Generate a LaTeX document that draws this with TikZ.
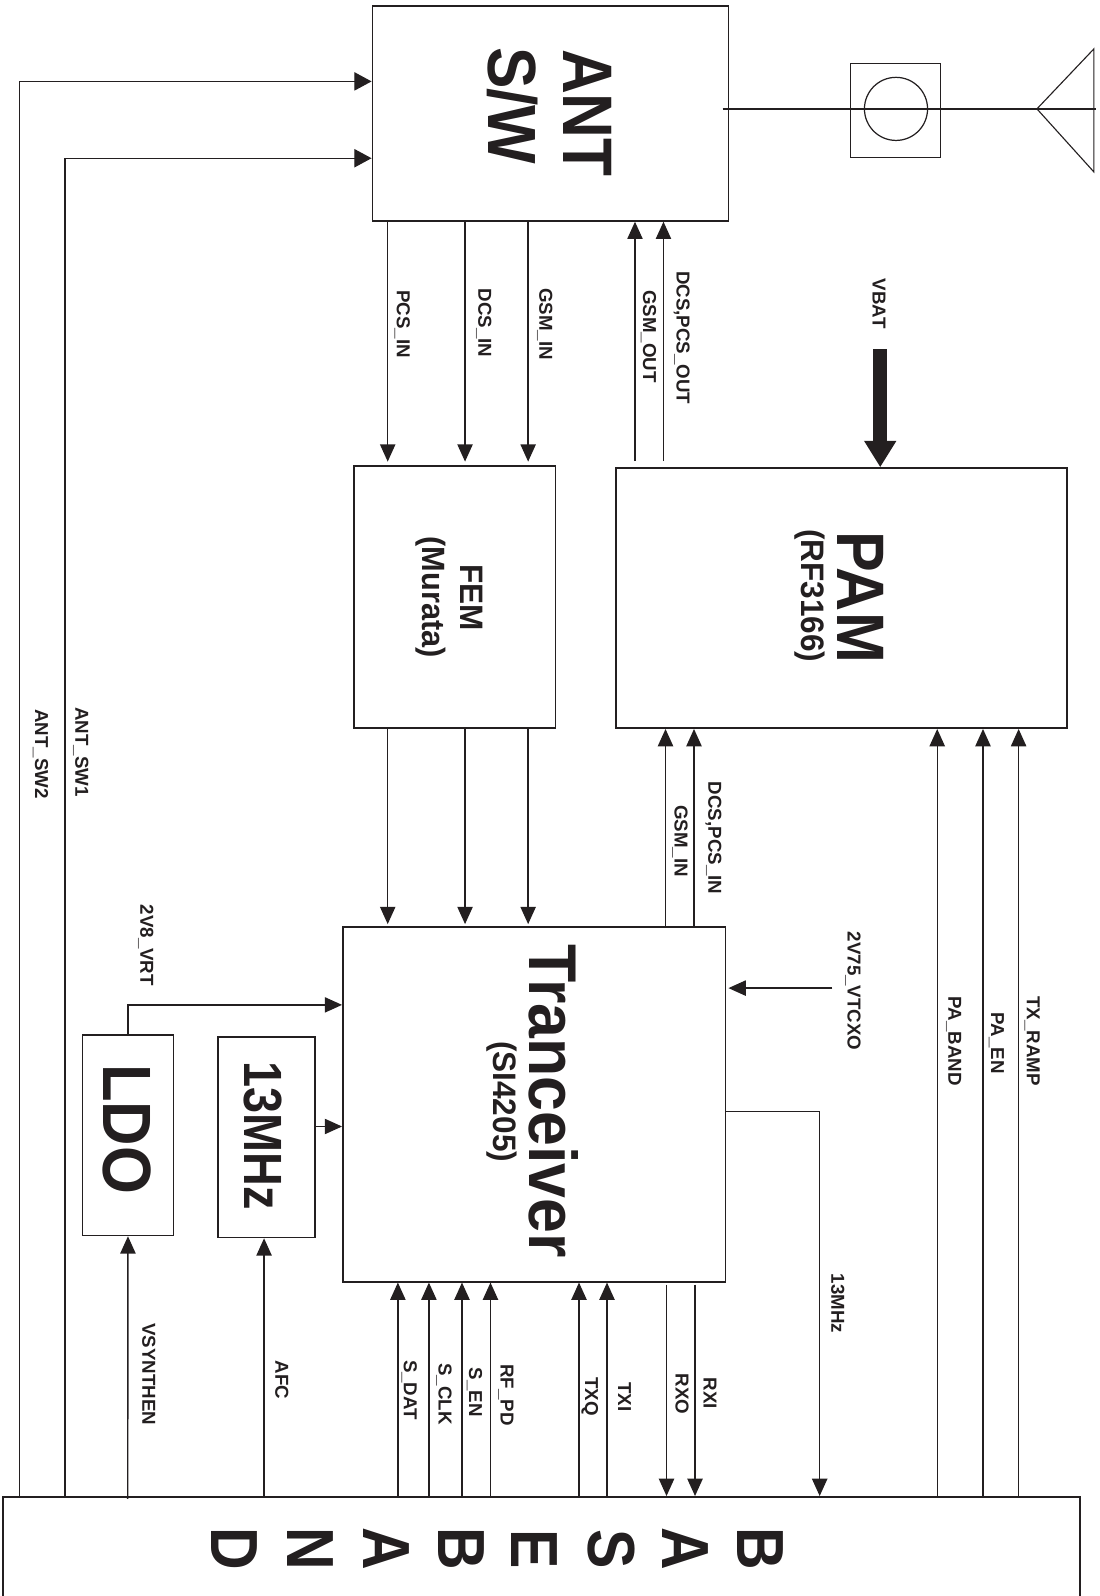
\documentclass[tikz,border=0pt]{standalone}
\usepackage{fontspec}
\setmainfont{Liberation Sans}
\usetikzlibrary{arrows.meta,fit}
\definecolor{ink}{HTML}{231F20}
\newcommand{\bigtxt}[3]{\fontsize{#1}{#1}\bfseries\selectfont\scalebox{1}[#2]{#3}}
\tikzset{
  blk/.style={draw=ink,line width=1.7pt,fill=none,inner sep=0pt,rectangle},
  wire/.style={draw=ink,line width=1.4pt},
  arr/.style={wire,-{Triangle[length=17pt,width=15pt]}},
  lbl/.style={rotate=-90,anchor=base,inner sep=0pt,text=ink,font=\fontsize{18.4}{18.4}\bfseries\selectfont},
  big/.style={rotate=-90,anchor=base,inner sep=0pt,text=ink},
}
\begin{document}
\begin{tikzpicture}[x=1pt,y=-1pt]
\useasboundingbox (0,0) rectangle (1080,1568.4);
% blocks
\node[blk,fit={(366,6)(716,217)}] (antsw) {};
\node[blk,fit={(348,458)(546,715.5)}] (fem) {};
\node[blk,fit={(605,460)(1048.5,715.5)}] (pam) {};
\node[blk,fit={(337,911)(713,1259.5)}] (trx) {};
\node[blk,fit={(81,1017)(170.5,1214)}] (ldo) {};
\node[blk,fit={(214,1019)(309.5,1216)}] (xtal) {};
\node[blk,fit={(3,1471)(1061,1640)}] (base) {};
\node[draw=ink,line width=1pt,inner sep=0pt,fit={(836,62)(924.5,154.5)}] (filt) {};
\node[draw=ink,line width=1.2pt,circle,minimum size=62pt,inner sep=0pt] (coil) at (880.5,107) {};
% antenna
\coordinate (feed) at (710,107);
\coordinate (aerial) at (1077.5,107);
\coordinate (apex) at (1019,107);
\draw[wire] (feed) -- (aerial);
\draw[draw=ink,line width=1.1pt] (1075,48) -- (apex) -- (1075,169) -- cycle;
% block texts
\node[big] (tant) at (553.5,111) {\bigtxt{61}{1.13}{ANT}};
\node[big] (tsw) at (480,104) {\bigtxt{61}{1.1}{S/W}};
\node[big] (tfem) at (453,587.5) {\bigtxt{31}{1.03}{FEM}};
\node[big] (tmur) at (415,587) {\bigtxt{30.2}{1.05}{(Murata)}};
\node[big] (tpam) at (823,587) {\bigtxt{60}{1.1}{PAM}};
\node[big] (trf) at (788,585.5) {\bigtxt{31}{1.03}{(RF3166)}};
\node[big] (ttrx) at (520,1082) {\bigtxt{61.5}{1.08}{Tranceiver}};
\node[big] (tsi) at (485,1082.5) {\bigtxt{31}{1.03}{(SI4205)}};
\node[big] (tldo) at (102,1109.5) {\bigtxt{60.5}{1.11}{LDO}};
\node[big] (txt) at (240,1116) {\bigtxt{46}{1.15}{13MHz}};
\foreach \n/\c/\x in {b1/D/208,b2/N/283,b3/A/357,b4/B/431,b5/E/503,b6/S/578,b7/A/651,b8/B/725}
  \node[big] (\n) at (\x,1522) {\bigtxt{58}{1.13}{\c}};
% antenna switch controls
\coordinate (sw2) at (19,0 |- base.north);
\coordinate (sw1) at (64,0 |- base.north);
\draw[wire,-{Triangle[length=17pt,width=18pt]}] (sw2) |- (antsw.west |- 0,80);
\draw[wire,-{Triangle[length=17pt,width=18pt]}] (sw1) |- (antsw.west |- 0,155.5);
% ant sw <-> fem / pam
\foreach \x in {381,457,519} {
  \draw[arr,shorten >=3.5pt] (\x,0 |- antsw.south) -- (\x,0 |- fem.north);
  \draw[arr,shorten >=2pt] (\x,0 |- fem.south) -- (\x,0 |- trx.north);
}
\foreach \x in {624,652}
  \draw[arr,shorten <=6pt] (\x,0 |- pam.north) -- (\x,0 |- antsw.south);
% VBAT
\coordinate (vbat) at (865,343);
\draw[draw=ink,line width=14pt,-{Triangle[length=26pt,width=30pt]}] (vbat) -- (865,0 |- pam.north);
% trx -> pam
\foreach \x in {654,682}
  \draw[arr] (\x,0 |- trx.north) -- (\x,0 |- pam.south);
\foreach \x in {921,966,1001}
  \draw[arr] (\x,0 |- base.north) -- (\x,0 |- pam.south);
% tcxo
\coordinate (vtcxo) at (818,971);
\draw[arr,shorten >=2pt] (vtcxo) -- (trx.east |- vtcxo);
% 13 MHz out
\draw[arr] (trx.east |- 0,1092) -| (805.5,0 |- base.north);
% LDO, xtal
\draw[arr] (ldo.north) |- (trx.west |- 0,987.5);
\draw[wire,-{Triangle[length=17pt,width=15pt]}] (xtal.east |- 0,1107) -- (trx.west |- 0,1107);
\draw[arr] (125.5,1473) -- (ldo.south);
\draw[arr] (259.5,0 |- base.north) -- (259.5,0 |- xtal.south);
\foreach \x in {391,421.5,454,482,569,596.5}
  \draw[arr] (\x,0 |- base.north) -- (\x,0 |- trx.south);
\foreach \x in {655,683}
  \draw[arr,shorten <=2pt] (\x,0 |- trx.south) -- (\x,0 |- base.north);
% labels
\node[lbl] (l1) at (34.5,741) {ANT\_SW2};
\node[lbl] (l2) at (74,739) {ANT\_SW1};
\node[lbl] (l3) at (390,318.5) {PCS\_IN};
\node[lbl] (l4) at (470,317.5) {DCS\_IN};
\node[lbl] (l5) at (530,318.5) {GSM\_IN};
\node[lbl] (l6) at (632,330.5) {GSM\_OUT};
\node[lbl] (l7) at (665,332) {DCS,PCS\_OUT};
\node[lbl] (l8) at (857.5,298.5) {VBAT};
\node[lbl] (l9) at (663,826.5) {GSM\_IN};
\node[lbl] (l10) at (696,823.5) {DCS,PCS\_IN};
\node[lbl] (l11) at (932,1023) {PA\_BAND};
\node[lbl] (l12) at (974,1025) {PA\_EN};
\node[lbl] (l13) at (1009,1023) {TX\_RAMP};
\node[lbl] (l14) at (833,974) {2V75\_VTCXO};
\node[lbl] (l15) at (817,1281) {13MHz};
\node[lbl] (l16) at (138,929) {2V8\_VRT};
\node[lbl] (l17) at (140,1350.5) {VSYNTHEN};
\node[lbl] (l18) at (270.5,1356) {AFC};
\node[lbl] (l19) at (397,1366) {S\_DAT};
\node[lbl] (l20) at (431,1370) {S\_CLK};
\node[lbl] (l21) at (461,1368) {S\_EN};
\node[lbl] (l22) at (492,1371) {RF\_PD};
\node[lbl] (l23) at (575,1372.5) {TXQ};
\node[lbl] (l24) at (607.5,1372.5) {TXI};
\node[lbl] (l25) at (664,1370) {RXO};
\node[lbl] (l26) at (691.5,1369) {RXI};
\end{tikzpicture}
\end{document}
